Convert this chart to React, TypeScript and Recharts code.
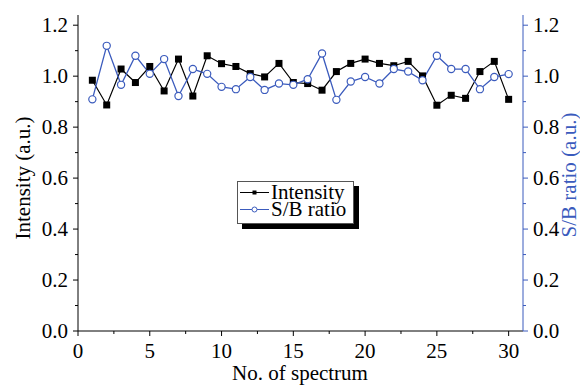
import React from "react";
import { LineChart, Line, XAxis, YAxis, Legend } from "recharts";

const spectrum = [1, 2, 3, 4, 5, 6, 7, 8, 9, 10, 11, 12, 13, 14, 15, 16, 17, 18, 19, 20, 21, 22, 23, 24, 25, 26, 27, 28, 29, 30];
const intensity = [0.984, 0.887, 1.028, 0.975, 1.038, 0.942, 1.067, 0.922, 1.08, 1.049, 1.038, 1.01, 0.997, 1.05, 0.975, 0.971, 0.945, 1.018, 1.05, 1.067, 1.05, 1.041, 1.058, 1.001, 0.886, 0.925, 0.913, 1.018, 1.058, 0.909];
const sbRatio = [0.909, 1.119, 0.966, 1.08, 1.009, 1.067, 0.922, 1.028, 1.009, 0.958, 0.949, 0.997, 0.946, 0.971, 0.966, 0.988, 1.089, 0.907, 0.979, 0.997, 0.971, 1.028, 1.018, 0.984, 1.08, 1.028, 1.028, 0.949, 0.997, 1.008];

const xTicks = [0, 2.5, 5, 7.5, 10, 12.5, 15, 17.5, 20, 22.5, 25, 27.5, 30];
const yTicks = [0, 0.1, 0.2, 0.3, 0.4, 0.5, 0.6, 0.7, 0.8, 0.9, 1.0, 1.1, 1.2];

const data = spectrum.map((n, i) => ({ n, intensity: intensity[i], sb: sbRatio[i] }));

const FONT = "Liberation Serif";
const BLUE = "#3b5bbd";

// minor ticks get no label, majors every 5 spectra
const XTick = (props: any) => {
  const { x, y, payload } = props;
  const major = payload.value % 5 === 0;
  return (
    <g>
      <line x1={x} y1={y} x2={x} y2={y + (major ? 5 : 3)} stroke="#000" />
      {major && (
        <text x={x} y={y + 27} textAnchor="middle" fontFamily={FONT} fontSize={21} fill="#000">
          {payload.value}
        </text>
      )}
    </g>
  );
};

const YTick = (side: "left" | "right", color: string) => (props: any) => {
  const { x, y, payload } = props;
  const major = Math.round(payload.value * 10) % 2 === 0;
  const dir = side === "left" ? -1 : 1;
  return (
    <g>
      <line x1={x} y1={y} x2={x + dir * (major ? 5 : 3)} y2={y} stroke={color} />
      {major && (
        <text
          x={x + dir * 10}
          y={y + 7}
          textAnchor={side === "left" ? "end" : "start"}
          fontFamily={FONT}
          fontSize={21}
          fill="#000"
        >
          {payload.value.toFixed(1)}
        </text>
      )}
    </g>
  );
};

const SquareDot = (props: any) => {
  const { cx, cy, index } = props;
  return <rect key={"s" + index} x={cx - 3.5} y={cy - 3.5} width={7} height={7} fill="#000" />;
};

const CircleDot = (props: any) => {
  const { cx, cy, index } = props;
  return <circle key={"c" + index} cx={cx} cy={cy} r={3.6} fill="#fff" stroke={BLUE} strokeWidth={1.2} />;
};

const LegendBox = () => (
  <div
    style={{
      boxSizing: "border-box",
      width: 117,
      height: 43,
      border: "1px solid #555",
      boxShadow: "5px 5px 0 #000",
      background: "#fff",
      padding: "2px 0 0 2px",
      fontSize: 21,
      lineHeight: "17px",
      color: "#000",
    }}
  >
    <div style={{ display: "flex", alignItems: "center", height: 17 }}>
      <svg width={31} height={17}>
        <line x1={0} y1={8.5} x2={29} y2={8.5} stroke="#000" />
        <rect x={12.5} y={6.5} width={4} height={4} fill="#000" />
      </svg>
      <span>Intensity</span>
    </div>
    <div style={{ display: "flex", alignItems: "center", height: 17 }}>
      <svg width={31} height={17}>
        <line x1={0} y1={8.5} x2={29} y2={8.5} stroke={BLUE} />
        <circle cx={14.5} cy={8.5} r={2.5} fill="#fff" stroke={BLUE} />
      </svg>
      <span>S/B ratio</span>
    </div>
  </div>
);

export default function App() {
  return (
    <div style={{ position: "absolute", left: 0, top: 0, background: "#fff", fontFamily: FONT }}>
      <LineChart width={580} height={385} data={data} margin={{ top: 15, right: 0, bottom: 0, left: 0 }}>
        <XAxis
          dataKey="n"
          type="number"
          domain={[0, 31]}
          ticks={xTicks}
          interval={0}
          height={54}
          tickSize={0}
          tickMargin={0}
          tickLine={false}
          axisLine={{ stroke: "#000" }}
          tick={<XTick />}
          label={{
            content: () => (
              <text x={300} y={380} textAnchor="middle" fontFamily={FONT} fontSize={21} fill="#000">
                No. of spectrum
              </text>
            ),
          }}
        />
        <XAxis
          xAxisId="top"
          orientation="top"
          dataKey="n"
          type="number"
          domain={[0, 31]}
          height={0}
          tick={false}
          tickLine={false}
          axisLine={{ stroke: "#000" }}
        />
        <YAxis
          yAxisId="left"
          orientation="left"
          type="number"
          domain={[0, 1.24]}
          ticks={yTicks}
          interval={0}
          width={78}
          tickSize={0}
          tickMargin={0}
          tickLine={false}
          axisLine={{ stroke: "#000" }}
          tick={YTick("left", "#000")}
          label={{
            content: () => (
              <text
                x={30}
                y={178}
                transform="rotate(-90 30 178)"
                textAnchor="middle"
                fontFamily={FONT}
                fontSize={21}
                fill="#000"
              >
                Intensity (a.u.)
              </text>
            ),
          }}
        />
        <YAxis
          yAxisId="right"
          orientation="right"
          type="number"
          domain={[0, 1.24]}
          ticks={yTicks}
          interval={0}
          width={57}
          tickSize={0}
          tickMargin={0}
          tickLine={false}
          axisLine={{ stroke: BLUE }}
          tick={YTick("right", BLUE)}
          label={{
            content: () => (
              <text
                x={576}
                y={175}
                transform="rotate(-90 576 175)"
                textAnchor="middle"
                fontFamily={FONT}
                fontSize={21}
                fill={BLUE}
              >
                S/B ratio (a.u.)
              </text>
            ),
          }}
        />
        <Legend
          verticalAlign="middle"
          align="center"
          layout="horizontal"
          wrapperStyle={{ left: 237, top: 181, width: "auto", height: "auto" }}
          content={() => <LegendBox />}
        />
        <Line
          yAxisId="left"
          dataKey="intensity"
          stroke="#000"
          strokeWidth={1.2}
          dot={SquareDot}
          activeDot={false}
          isAnimationActive={false}
        />
        <Line
          yAxisId="right"
          dataKey="sb"
          stroke={BLUE}
          strokeWidth={1.3}
          dot={CircleDot}
          activeDot={false}
          isAnimationActive={false}
        />
      </LineChart>
    </div>
  );
}
